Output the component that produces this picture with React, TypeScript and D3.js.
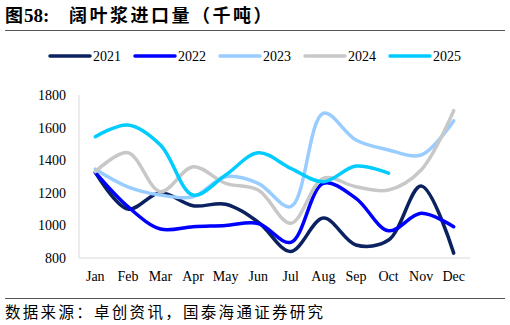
import React, { useEffect, useRef } from "react";
import * as d3 from "d3";

const months = ["Jan", "Feb", "Mar", "Apr", "May", "Jun", "Jul", "Aug", "Sep", "Oct", "Nov", "Dec"];
const years = ["2021", "2022", "2023", "2024", "2025"];
const colors = ["#0b2160", "#0000ff", "#99ccff", "#c8c8c8", "#00ccff"];

const s2021 = [1325, 1100, 1200, 1120, 1130, 1020, 840, 1045, 880, 910, 1242, 830];
const s2022 = [1325, 1115, 978, 992, 1000, 1012, 896, 1258, 1166, 967, 1074, 992];
const s2023 = [1345, 1237, 1186, 1176, 1299, 1258, 1115, 1688, 1524, 1463, 1432, 1642];
const s2024 = [1330, 1446, 1207, 1360, 1258, 1217, 1013, 1289, 1237, 1217, 1340, 1704];
const s2025 = [1544, 1616, 1493, 1186, 1309, 1446, 1350, 1268, 1364, 1320];
const seriesList = [s2021, s2022, s2023, s2024, s2025];
const yTicks = [800, 1000, 1200, 1400, 1600, 1800];

const serif = "'Liberation Serif', 'Times New Roman', serif";
const cjk = "'Noto Sans CJK SC', sans-serif";

export default function App() {
  const svgRef = useRef<SVGSVGElement>(null);

  useEffect(() => {
    const svg = d3.select(svgRef.current);
    svg.selectAll("*").remove();

    const left = 79, right = 470, top = 95, bottom = 258;

    const x = d3.scaleBand().domain(months).range([left, right]);
    const y = d3.scaleLinear().domain([800, 1800]).range([bottom, top]);

    // title
    const title = svg.append("text").attr("x", 5).attr("y", 22).attr("font-weight", "bold");
    title.append("tspan").attr("font-family", cjk).attr("font-size", 18).text("图");
    title.append("tspan").attr("font-family", serif).attr("font-size", 19).attr("dx", 1).text("58:");
    title.append("tspan").attr("font-family", cjk).attr("font-size", 18)
      .attr("x", 69).attr("letter-spacing", 2.5).text("阔叶浆进口量（千吨）");
    svg.append("line").attr("x1", 5).attr("x2", 505).attr("y1", 30.5).attr("y2", 30.5)
      .attr("stroke", "#555").attr("stroke-width", 1);

    // legend
    const lg = svg.append("g");
    years.forEach((yr, i) => {
      const lx = 50 + i * 85;
      lg.append("line").attr("x1", lx).attr("x2", lx + 40).attr("y1", 56).attr("y2", 56)
        .attr("stroke", colors[i]).attr("stroke-width", 3.5).attr("stroke-linecap", "round");
      lg.append("text").attr("x", lx + 43).attr("y", 61)
        .attr("font-family", serif).attr("font-size", 14).text(yr);
    });

    // axes
    svg.append("line").attr("x1", left).attr("x2", left).attr("y1", top).attr("y2", bottom)
      .attr("stroke", "#d9d9d9");
    svg.append("line").attr("x1", left).attr("x2", right).attr("y1", bottom).attr("y2", bottom)
      .attr("stroke", "#d9d9d9");

    svg.append("g").selectAll("text").data(yTicks).join("text")
      .attr("x", 66).attr("y", (d) => y(d) + 5)
      .attr("text-anchor", "end")
      .attr("font-family", serif).attr("font-size", 14)
      .text((d) => d);

    svg.append("g").selectAll("text").data(months).join("text")
      .attr("x", (d) => x(d)! + x.bandwidth() / 2).attr("y", 281)
      .attr("text-anchor", "middle")
      .attr("font-family", serif).attr("font-size", 14)
      .text((d) => d);

    const lineGen = d3.line<number>()
      .x((_, i) => x(months[i])! + x.bandwidth() / 2)
      .y((d) => y(d))
      .curve(d3.curveCatmullRom.alpha(0.5));

    svg.append("g").selectAll("path").data(seriesList).join("path")
      .attr("d", (d) => lineGen(d))
      .attr("fill", "none")
      .attr("stroke", (_, i) => colors[i])
      .attr("stroke-width", 3.5)
      .attr("stroke-linecap", "round");

    svg.append("line").attr("x1", 5).attr("x2", 505).attr("y1", 298.5).attr("y2", 298.5)
      .attr("stroke", "#555").attr("stroke-width", 1);
    svg.append("text").attr("x", 5).attr("y", 318)
      .attr("font-family", cjk).attr("font-size", 15.5).attr("letter-spacing", 2.3)
      .text("数据来源：卓创资讯，国泰海通证券研究");
  }, []);

  return (
    <svg ref={svgRef} width={510} height={325}
      style={{ position: "absolute", left: 0, top: 0, background: "#fff" }} />
  );
}
